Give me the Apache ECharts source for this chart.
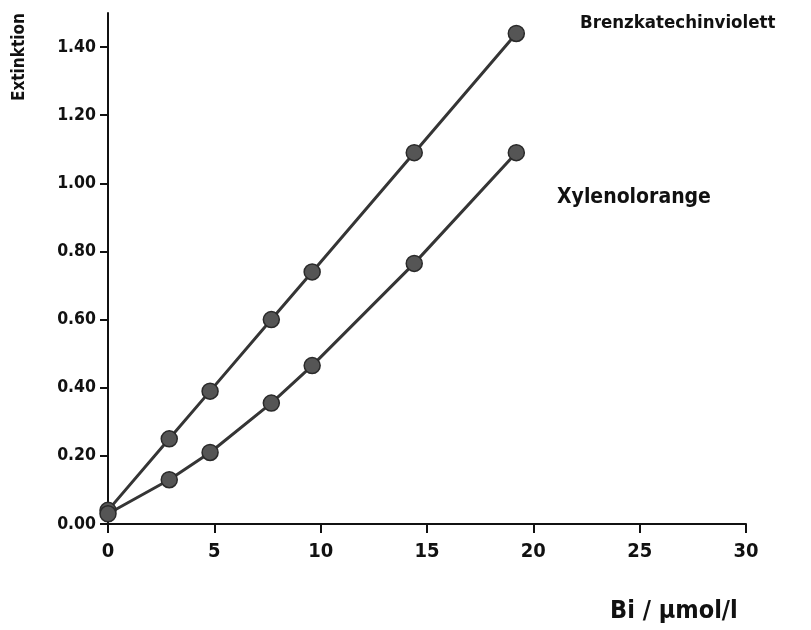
<!DOCTYPE html>
<html>
<head>
<meta charset="utf-8">
<script src="https://cdn.jsdelivr.net/npm/echarts@6/dist/echarts.min.js"></script>
<style>
html,body{margin:0;padding:0;background:#fff;}
#chart{width:811px;height:630px;}
</style>
</head>
<body>
<div id="chart"></div>
<script>
var FONT = '"DejaVu Sans Condensed", "Liberation Sans Narrow", "Liberation Sans", sans-serif';

var concentration = [0, 2.88, 4.8, 7.68, 9.6, 14.4, 19.2];
var brenzkatechinviolett = [0.04, 0.25, 0.39, 0.60, 0.74, 1.09, 1.44];
var xylenolorange = [0.03, 0.13, 0.21, 0.355, 0.465, 0.765, 1.09];
var yTickValues = [0, 0.2, 0.4, 0.6, 0.8, 1.0, 1.2, 1.4];
var seriesNames = ['Brenzkatechinviolett', 'Xylenolorange'];
var xAxisTitle = 'Bi / \u00b5mol/l';
var yAxisTitle = 'Extinktion';

function pairs(xs, ys) { return xs.map(function (x, i) { return [x, ys[i]]; }); }

var chart = echarts.init(document.getElementById('chart'), null, {renderer: 'canvas'});

var seriesStyle = {
  type: 'line',
  symbol: 'circle',
  symbolSize: 16,
  lineStyle: {color: '#353535', width: 3},
  itemStyle: {color: '#555555', borderColor: '#2a2a2a', borderWidth: 1.5},
  animation: false,
  z: 3
};

chart.setOption({
  animation: false,
  grid: {left: 108, right: 65, top: 13, bottom: 106},
  xAxis: {
    type: 'value', min: 0, max: 30, interval: 5,
    axisLine: {lineStyle: {color: '#111', width: 2}},
    axisTick: {show: true, length: 9, inside: false, lineStyle: {color: '#111', width: 2}},
    axisLabel: {margin: 18, fontFamily: FONT, fontSize: 20, fontWeight: 'bold', color: '#111'},
    splitLine: {show: false}
  },
  yAxis: {
    type: 'value', min: 0, max: 1.5,
    axisLine: {show: true, lineStyle: {color: '#111', width: 2}},
    axisTick: {show: true, length: 8, customValues: yTickValues, lineStyle: {color: '#111', width: 2}},
    axisLabel: {margin: 12, fontFamily: FONT, fontSize: 17.5, fontWeight: 'bold', color: '#111', customValues: yTickValues,
      formatter: function (v) { return v.toFixed(2); }},
    splitLine: {show: false}
  },
  series: [
    Object.assign({name: seriesNames[0], data: pairs(concentration, brenzkatechinviolett)}, seriesStyle),
    Object.assign({name: seriesNames[1], data: pairs(concentration, xylenolorange)}, seriesStyle)
  ],
  graphic: [
    {type: 'text', left: 580, top: 14, style: {text: seriesNames[0], font: 'bold 18.5px ' + FONT, fill: '#111'}},
    {type: 'text', left: 557, top: 187, style: {text: seriesNames[1], font: 'bold 21px ' + FONT, fill: '#111'}},
    {type: 'text', left: 610, top: 599, style: {text: xAxisTitle, font: 'bold 25px ' + FONT, fill: '#111'}},
    {type: 'text', x: 11, y: 101, rotation: Math.PI / 2, style: {text: yAxisTitle, font: 'bold 17px ' + FONT, fill: '#111', textAlign: 'left', textVerticalAlign: 'top'}}
  ]
});
</script>
</body>
</html>
